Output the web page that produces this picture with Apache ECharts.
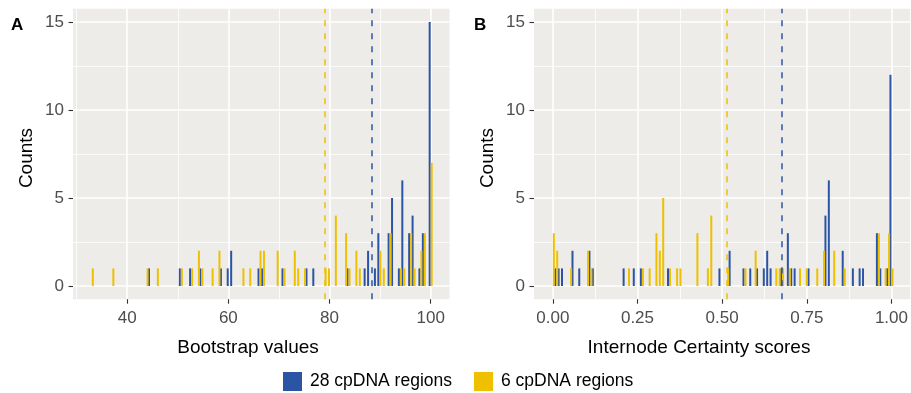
<!DOCTYPE html>
<html>
<head>
<meta charset="utf-8">
<script src="https://cdn.jsdelivr.net/npm/echarts@6/dist/echarts.min.js"></script>
<style>
  html, body { margin: 0; padding: 0; background: #fff; }
  #chart { width: 911px; height: 393px; }
</style>
</head>
<body>
<div id="chart"></div>
<script>
// panel A: bootstrap values (bin centre, count)
var bootBlueX = [44.51, 50.60, 52.63, 54.66, 58.72, 60.07, 60.75, 66.16, 66.84, 70.90, 75.64, 76.99, 83.76,
  87.14, 87.82, 89.17, 89.85, 91.88, 92.56, 93.91, 94.59, 95.94, 96.62, 97.97, 98.65, 100];
var bootBlueN = [1, 1, 1, 1, 1, 1, 2, 1, 1, 1, 1, 1, 1,
  1, 2, 1, 3, 3, 5, 1, 6, 3, 4, 1, 3, 15];
var bootGoldX = [33, 37.06, 43.83, 45.86, 50.60, 52.63, 53.98, 54.66, 56.69, 58.04, 62.78, 64.13, 66.16,
  66.84, 69.55, 70.90, 72.93, 73.61, 74.96, 79.02, 79.70, 81.05, 83.08, 83.76, 85.11, 85.79,
  89.85, 90.53, 91.88, 93.91, 94.59, 95.94, 96.62, 97.97, 98.65, 100];
var bootGoldN = [1, 1, 1, 1, 1, 1, 2, 1, 1, 2, 1, 1, 2,
  2, 2, 1, 2, 1, 1, 1, 1, 4, 3, 1, 2, 1,
  2, 1, 3, 1, 1, 3, 1, 2, 3, 7];

// panel B: internode certainty scores
var icBlueX = [0.010, 0.020, 0.030, 0.061, 0.081, 0.111, 0.121, 0.212, 0.242, 0.263, 0.343, 0.495, 0.525,
  0.566, 0.586, 0.606, 0.626, 0.636, 0.646, 0.677, 0.697, 0.707, 0.717, 0.758, 0.808, 0.818,
  0.859, 0.889, 0.909, 0.919, 0.960, 0.970, 0.990, 1.000];
var icBlueN = [1, 1, 1, 2, 1, 2, 1, 1, 1, 1, 1, 1, 2,
  1, 1, 1, 1, 2, 1, 1, 3, 1, 1, 1, 4, 6,
  2, 1, 1, 1, 3, 1, 1, 12];
var icGoldX = [0, 0.010, 0.051, 0.101, 0.111, 0.222, 0.263, 0.283, 0.303, 0.313, 0.323, 0.343, 0.364,
  0.374, 0.424, 0.455, 0.465, 0.515, 0.566, 0.596, 0.657, 0.667, 0.677, 0.697, 0.727, 0.747,
  0.778, 0.798, 0.828, 0.859, 0.960, 0.980, 0.990, 1.000];
var icGoldN = [3, 2, 1, 2, 1, 1, 1, 1, 3, 2, 5, 1, 1,
  1, 3, 1, 4, 1, 1, 2, 1, 1, 1, 1, 1, 1,
  1, 2, 2, 1, 3, 1, 3, 1];

// means (dashed lines)
var bootMeanBlue = 88.5, bootMeanGold = 78.8;
var icMeanBlue = 0.676, icMeanGold = 0.511;

var bootTicks = [40, 60, 80, 100];
var bootMinor = [30, 50, 70, 90];
var icTicks = [0, 0.25, 0.5, 0.75, 1];
var icMinor = [0.125, 0.375, 0.625, 0.875];
var countTicks = [0, 5, 10, 15];
var countMinor = [2.5, 7.5, 12.5];

var BLUE = '#2C54A5';
var GOLD = '#EFC000';
var FONT = '"Liberation Sans", Arial, sans-serif';

function pairs(xs, ns) {
  return xs.map(function (x, i) { return [x, ns[i]]; });
}

// axis line kept but invisible so the ticks are still drawn
var hiddenLine = { show: true, onZero: false, lineStyle: { color: 'rgba(0,0,0,0)' } };

function mainX(grid, min, max, ticks, fmt) {
  return {
    type: 'value', gridIndex: grid, min: min, max: max,
    axisLine: hiddenLine,
    axisTick: { show: true, length: 4.5, customValues: ticks, lineStyle: { color: '#333', width: 1.1 } },
    axisLabel: { customValues: ticks, color: '#4D4D4D', fontSize: 17, margin: 11, fontFamily: FONT, formatter: fmt },
    splitLine: { show: true, lineStyle: { color: '#fff', width: 1.6 } }
  };
}
function minorAxis(grid, min, max, ticks) {
  return {
    type: 'value', gridIndex: grid, min: min, max: max,
    axisLine: { show: false, onZero: false },
    axisTick: { show: false, customValues: ticks },
    axisLabel: { show: false, customValues: ticks },
    splitLine: { show: true, lineStyle: { color: '#fff', width: 0.8 } }
  };
}
function mainY(grid) {
  return {
    type: 'value', gridIndex: grid, min: -0.75, max: 15.75,
    axisLine: hiddenLine,
    axisTick: { show: true, length: 4.5, customValues: countTicks, lineStyle: { color: '#333', width: 1.1 } },
    axisLabel: { customValues: countTicks, color: '#4D4D4D', fontSize: 17, margin: 9, fontFamily: FONT },
    splitLine: { show: true, lineStyle: { color: '#fff', width: 1.6 } }
  };
}

function meanLine(v, color) {
  return {
    silent: true, symbol: 'none', label: { show: false },
    lineStyle: { color: color, type: [6, 7], width: 1.5 },
    data: [{ xAxis: v }]
  };
}

function bars(name, xi, yi, data, color, mean) {
  return {
    name: name, type: 'bar', xAxisIndex: xi, yAxisIndex: yi,
    barWidth: 2, barGap: '0%',
    itemStyle: { color: color },
    data: data,
    markLine: meanLine(mean, color)
  };
}

function title(text, x, y, rot) {
  return {
    type: 'text', x: x, y: y, rotation: rot || 0,
    style: { text: text, font: '19px ' + FONT, fill: '#000', align: 'center', verticalAlign: 'middle' }
  };
}

var chart = echarts.init(document.getElementById('chart'), null, { renderer: 'canvas' });
chart.setOption({
  animation: false,
  textStyle: { fontFamily: FONT },
  grid: [
    { left: 73, top: 8.8, width: 376.5, height: 290.4, show: true, backgroundColor: '#EDECE8', borderWidth: 0 },
    { left: 534, top: 8.8, width: 378, height: 290.4, show: true, backgroundColor: '#EDECE8', borderWidth: 0 }
  ],
  legend: {
    top: 367, left: 278, itemWidth: 19, itemHeight: 19, itemGap: 22, icon: 'rect',
    textStyle: { color: '#000', fontSize: 17.5, fontFamily: FONT, padding: [0, 0, 0, 3] },
    data: ['28 cpDNA regions', '6 cpDNA regions']
  },
  graphic: [
    { type: 'text', left: 11, top: 17, style: { text: 'A', font: 'bold 17px ' + FONT, fill: '#000' } },
    { type: 'text', left: 474, top: 17, style: { text: 'B', font: 'bold 17px ' + FONT, fill: '#000' } },
    title('Bootstrap values', 248, 348),
    title('Internode Certainty scores', 699, 348),
    title('Counts', 27, 158, Math.PI / 2),
    title('Counts', 488, 158, Math.PI / 2)
  ],
  xAxis: [
    mainX(0, 29.28, 103.72, bootTicks),
    minorAxis(0, 29.28, 103.72, bootMinor),
    mainX(1, -0.0556, 1.0556, icTicks, function (v) { return v.toFixed(2); }),
    minorAxis(1, -0.0556, 1.0556, icMinor)
  ],
  yAxis: [
    mainY(0),
    minorAxis(0, -0.75, 15.75, countMinor),
    mainY(1),
    minorAxis(1, -0.75, 15.75, countMinor)
  ],
  series: [
    bars('28 cpDNA regions', 0, 0, pairs(bootBlueX, bootBlueN), BLUE, bootMeanBlue),
    bars('6 cpDNA regions', 0, 0, pairs(bootGoldX, bootGoldN), GOLD, bootMeanGold),
    bars('28 cpDNA regions', 2, 2, pairs(icBlueX, icBlueN), BLUE, icMeanBlue),
    bars('6 cpDNA regions', 2, 2, pairs(icGoldX, icGoldN), GOLD, icMeanGold)
  ]
});
window.addEventListener('resize', function () { chart.resize(); });
</script>
</body>
</html>
